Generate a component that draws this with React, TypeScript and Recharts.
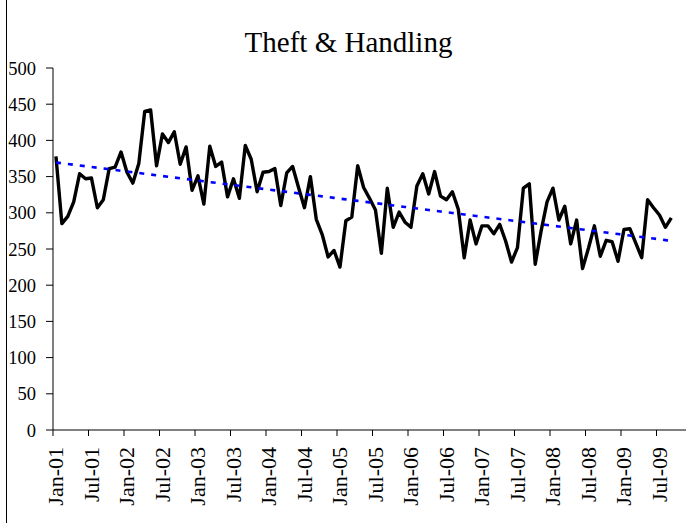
import { Line, LineChart, XAxis, YAxis } from 'recharts'

// monthly counts, Jan-01 .. Sep-09
const VALUES = [
  378, 285, 295, 315, 354, 347, 348, 307, 318, 361, 363, 384,
  356, 341, 368, 440, 442, 365, 409, 397, 412, 367, 391, 331,
  351, 312, 392, 364, 370, 322, 347, 320, 393, 374, 329, 356,
  357, 361, 310, 355, 364, 335, 307, 350, 291, 270, 239, 248,
  225, 289, 294, 365, 335, 320, 304, 244, 334, 280, 301, 287,
  280, 337, 354, 326, 357, 323, 318, 329, 305, 238, 290, 257,
  282, 282, 271, 284, 261, 232, 252, 334, 340, 229, 275, 315,
  334, 290, 309, 257, 290, 223, 251, 282, 240, 262, 260, 233,
  277, 278, 258, 238, 318, 307, 297, 280, 293,
]

const TICK_LABELS = [
  'Jan-01', 'Jul-01', 'Jan-02', 'Jul-02', 'Jan-03', 'Jul-03',
  'Jan-04', 'Jul-04', 'Jan-05', 'Jul-05', 'Jan-06', 'Jul-06',
  'Jan-07', 'Jul-07', 'Jan-08', 'Jul-08', 'Jan-09', 'Jul-09',
]

const Y_TICKS = [0, 50, 100, 150, 200, 250, 300, 350, 400, 450, 500]

const N_CAT = 108 // axis runs to Dec-09
const TICK_STEP = 6

const FONT = '"Liberation Serif", "Times New Roman", serif'

const CHART_W = 700
const CHART_H = 523
const MARGIN = { top: 68, right: 8, bottom: 0, left: 8 }
const Y_AXIS_W = 45
const PLOT_W = CHART_W - MARGIN.left - MARGIN.right - Y_AXIS_W
const HALF_CAT = PLOT_W / N_CAT / 2

// Excel style linear trendline through the monthly values
function linearFit(vals: number[]) {
  const n = vals.length
  let sx = 0, sy = 0, sxy = 0, sxx = 0
  vals.forEach((v, i) => {
    sx += i
    sy += v
    sxy += i * v
    sxx += i * i
  })
  const b = (n * sxy - sx * sy) / (n * sxx - sx * sx)
  const a = (sy - b * sx) / n
  return (i: number) => a + b * i
}

const trend = linearFit(VALUES)

const data = VALUES.map((v, i) => ({ x: i + 0.5, value: v, trend: trend(i) }))

const xTicks = TICK_LABELS.map((_, k) => k * TICK_STEP)

function MonthTick(props: any) {
  const { x, y, payload } = props
  const label = TICK_LABELS[Math.round(payload.value / TICK_STEP)]
  const lx = x + HALF_CAT
  const ly = y + 9
  return (
    <text
      x={lx}
      y={ly}
      transform={`rotate(-90, ${lx}, ${ly})`}
      textAnchor="end"
      dominantBaseline="central"
      fontFamily={FONT}
      fontSize={22}
      fill="#000"
    >
      {label}
    </text>
  )
}

export default function App() {
  return (
    <div
      style={{
        position: 'absolute',
        left: 0,
        top: 0,
        width: 686,
        height: 523,
        overflow: 'hidden',
        background: '#fff',
      }}
    >
      <LineChart width={CHART_W} height={CHART_H} data={data} margin={MARGIN}>
        <XAxis
          type="number"
          dataKey="x"
          domain={[0, N_CAT]}
          ticks={xTicks}
          interval={0}
          height={93}
          tickSize={6}
          tick={<MonthTick />}
          axisLine={{ stroke: '#000', strokeWidth: 1 }}
          tickLine={{ stroke: '#000', strokeWidth: 1 }}
        />
        <YAxis
          type="number"
          domain={[0, 500]}
          ticks={Y_TICKS}
          interval={0}
          width={Y_AXIS_W}
          tickSize={7}
          tickMargin={10}
          axisLine={{ stroke: '#000', strokeWidth: 1 }}
          tickLine={{ stroke: '#000', strokeWidth: 1 }}
          tick={{ fontFamily: FONT, fontSize: 18.5, fill: '#000' }}
        />
        <Line
          dataKey="value"
          stroke="#000"
          strokeWidth={3.4}
          strokeLinejoin="round"
          dot={false}
          activeDot={false}
          isAnimationActive={false}
        />
        <Line
          dataKey="trend"
          stroke="#0000ff"
          strokeWidth={2.6}
          strokeDasharray="5 7"
          dot={false}
          activeDot={false}
          isAnimationActive={false}
        />
      </LineChart>
      <svg
        width={686}
        height={523}
        style={{ position: 'absolute', left: 0, top: 0, pointerEvents: 'none' }}
      >
        <line x1={6.5} y1={0} x2={6.5} y2={523} stroke="#000" strokeWidth={1} />
        <text x={348.5} y={52} textAnchor="middle" fontFamily={FONT} fontSize={29} fill="#000">
          Theft &amp; Handling
        </text>
      </svg>
    </div>
  )
}
